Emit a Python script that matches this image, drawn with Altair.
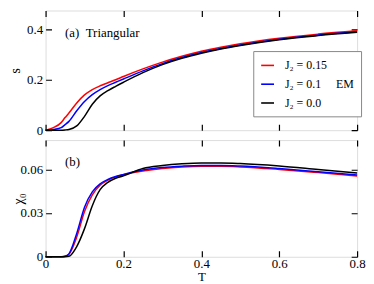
import altair as alt
import pandas as pd

# ---------------- data ----------------
T = [0.0, 0.02, 0.04, 0.05, 0.06, 0.08, 0.10, 0.12, 0.14, 0.16, 0.18, 0.20,
     0.25, 0.30, 0.35, 0.40, 0.45, 0.50, 0.60, 0.70, 0.80]

series_labels = ["J\u2082 = 0.15", "J\u2082 = 0.1\u00a0\u00a0\u00a0\u00a0\u00a0EM", "J\u2082 = 0.0"]
series_colors = ["#ff0000", "#0000ff", "#000000"]

s_015 = [0.0, 0.010, 0.030, 0.050, 0.068, 0.108, 0.140, 0.161, 0.176, 0.188, 0.200, 0.213,
         0.243, 0.270, 0.293, 0.313, 0.329, 0.343, 0.365, 0.381, 0.394]
s_010 = [0.0, 0.003, 0.010, 0.022, 0.035, 0.077, 0.114, 0.141, 0.161, 0.177, 0.190, 0.203,
         0.235, 0.264, 0.288, 0.308, 0.324, 0.338, 0.361, 0.377, 0.390]
s_000 = [0.0, 0.0, 0.0, 0.001, 0.003, 0.017, 0.055, 0.103, 0.136, 0.157, 0.174, 0.190,
         0.228, 0.260, 0.285, 0.305, 0.322, 0.336, 0.359, 0.375, 0.388]

chi_015 = [0.0, 0.0, 0.0, 0.0003, 0.0017, 0.0135, 0.031, 0.0425, 0.049, 0.0525, 0.0548, 0.0562,
           0.0588, 0.0605, 0.0615, 0.0620, 0.0620, 0.0616, 0.0599, 0.0577, 0.0553]
chi_010 = [0.0, 0.0, 0.0, 0.0004, 0.0020, 0.0160, 0.034, 0.0445, 0.050, 0.0530, 0.0550, 0.0565,
           0.0595, 0.0612, 0.0621, 0.0626, 0.0626, 0.0622, 0.0605, 0.0583, 0.0560]
chi_000 = [0.0, 0.0, 0.0, 0.0, 0.0003, 0.0070, 0.0193, 0.035, 0.046, 0.0510, 0.0538, 0.0555,
           0.0605, 0.0625, 0.0637, 0.0643, 0.0643, 0.0639, 0.0622, 0.0598, 0.0574]

x_ticks = [0, 0.2, 0.4, 0.6, 0.8]
s_ticks = [0, 0.2, 0.4]
chi_ticks = [0, 0.03, 0.06]

# ---------------- tables ----------------
rows = []
for lab, sv, cv in zip(series_labels, [s_015, s_010, s_000], [chi_015, chi_010, chi_000]):
    for t, a, b in zip(T, sv, cv):
        rows.append({"T": t, "s": a, "chi": b, "J2": lab})
df = pd.DataFrame(rows)

ann_a = pd.DataFrame({"T": [0.05], "v": [0.384], "label": ["(a)\u00a0\u00a0Triangular"]})
ann_b = pd.DataFrame({"T": [0.05], "v": [0.065], "label": ["(b)"]})

FONT = "Liberation Serif"
W = 315
H_A, H_B = 121, 118
TK = 6

xscale = alt.Scale(domain=[0, 0.8], nice=False, zero=False)
sscale = alt.Scale(domain=[0, 0.4745], nice=False)
cscale = alt.Scale(domain=[0, 0.08], nice=False)
color_scale = alt.Scale(domain=series_labels, range=series_colors)

lab_expr = "datum.value == 0 ? '0' : format(datum.value, '.2~f')"


def axis(orient, values, span, labels=True, title=None, extra=None):
    # inward tick marks at both ends are drawn by a dashed grid line
    kw = dict(orient=orient, values=values, ticks=False, tickSize=0, domain=False,
              grid=True, gridColor="black", gridWidth=1.2, gridOpacity=1,
              gridDash=[TK, span - 2 * TK, TK, 2000],
              labels=labels, labelFont=FONT, labelFontSize=13, labelColor="black",
              labelPadding=3, labelExpr=lab_expr, labelFlush=False, labelOverlap=False,
              titleFont=FONT, titleFontSize=14, titleFontWeight="normal",
              titleColor="black", minExtent=0)
    kw["title"] = title
    if extra:
        kw.update(extra)
    return alt.Axis(**kw)


legend = alt.Legend(orient="none", legendX=210, legendY=41, title=None,
                    strokeColor="#888888", padding=7, fillColor="white",
                    symbolType="stroke", symbolSize=169, symbolStrokeWidth=1.6,
                    labelFont=FONT, labelFontSize=12, labelColor="black",
                    rowPadding=5, labelOffset=10)

base = alt.Chart(df)

lines_a = base.mark_line(strokeWidth=1.5, interpolate="monotone").encode(
    x=alt.X("T:Q", scale=xscale, axis=axis("bottom", x_ticks, H_A, labels=False)),
    y=alt.Y("s:Q", scale=sscale, axis=axis("left", s_ticks, W, title="s",
                                            extra={"titlePadding": 4})),
    color=alt.Color("J2:N", scale=color_scale, legend=legend, sort=series_labels),
)
text_a = alt.Chart(ann_a).mark_text(align="left", baseline="middle", font=FONT,
                                    fontSize=13, color="black").encode(
    x=alt.X("T:Q", scale=xscale),
    y=alt.Y("v:Q", scale=sscale),
    text="label:N",
)
panel_a = alt.layer(lines_a, text_a).properties(width=W, height=H_A)

lines_b = base.mark_line(strokeWidth=1.5, interpolate="monotone").encode(
    x=alt.X("T:Q", scale=xscale, axis=axis("bottom", x_ticks, H_B, title="T",
                                            extra={"titlePadding": 0, "labelPadding": 1,
                                                   "titleFontSize": 13})),
    y=alt.Y("chi:Q", scale=cscale, axis=axis("left", chi_ticks, W, title="\u03c7\u2080",
                                              extra={"titlePadding": -5})),
    color=alt.Color("J2:N", scale=color_scale, legend=None),
)
text_b = alt.Chart(ann_b).mark_text(align="left", baseline="middle", font=FONT,
                                    fontSize=13, color="black").encode(
    x=alt.X("T:Q", scale=xscale),
    y=alt.Y("v:Q", scale=cscale),
    text="label:N",
)
panel_b = alt.layer(lines_b, text_b).properties(width=W, height=H_B)

chart = alt.vconcat(panel_a, panel_b, spacing=1).resolve_legend(color="independent") \
    .properties(padding={"left": 0, "top": 0, "right": 0, "bottom": 0}) \
    .configure_view(stroke="black", strokeWidth=1.3) \
    .configure(background="white")

chart.save("out.html", embed_options={"renderer": "svg", "actions": False})
